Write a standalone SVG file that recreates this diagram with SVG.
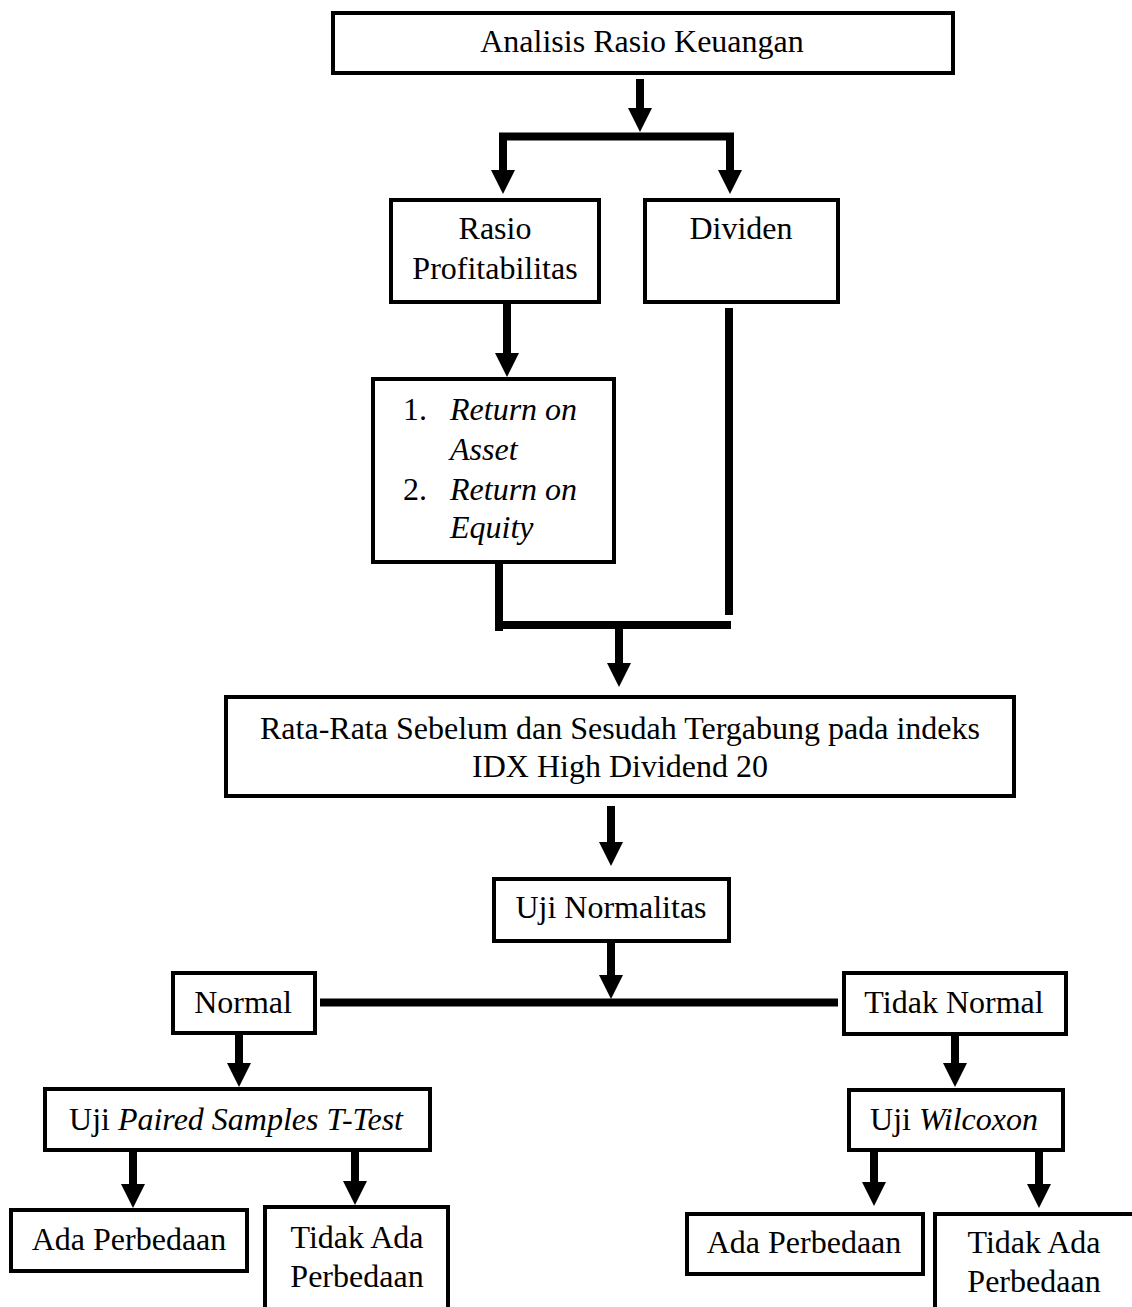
<svg xmlns="http://www.w3.org/2000/svg" width="1132" height="1307" viewBox="0 0 1132 1307">
<style>
.box{fill:#fff;stroke:#000;stroke-width:4}
.t{font-family:"Liberation Serif","Times New Roman",serif;font-size:32px;fill:#000}
.c{text-anchor:middle}
.i{font-style:italic}
.ln{stroke:#000;stroke-width:8;fill:none}
.ar{stroke:#000;stroke-width:8;fill:none;marker-end:url(#ah)}
</style>
<defs>
<marker id="ah" markerUnits="userSpaceOnUse" markerWidth="24" markerHeight="24" refX="0" refY="12" orient="auto" viewBox="0 0 24 24">
<path d="M0,0 L24,12 L0,24 Z" fill="#000"/>
</marker>
</defs>
<rect width="1132" height="1307" fill="#fff"/>
<g id="connectors">
<line class="ar" x1="640" y1="79" x2="640" y2="108"/>
<line class="ln" x1="499" y1="136.5" x2="734" y2="136.5" stroke-width="7"/>
<line class="ar" x1="503" y1="133" x2="503" y2="170"/>
<line class="ar" x1="730" y1="133" x2="730" y2="170"/>
<line class="ar" x1="507" y1="304" x2="507" y2="353"/>
<line class="ln" x1="499" y1="564" x2="499" y2="631"/>
<line class="ln" x1="495" y1="625" x2="731" y2="625" stroke-width="7"/>
<line class="ln" x1="729" y1="308" x2="729" y2="615"/>
<line class="ar" x1="619" y1="628" x2="619" y2="663"/>
<line class="ar" x1="611" y1="806" x2="611" y2="842"/>
<line class="ar" x1="611" y1="943" x2="611" y2="975"/>
<line class="ln" x1="320" y1="1002.5" x2="838" y2="1002.5" stroke-width="9"/>
<line class="ar" x1="239" y1="1035" x2="239" y2="1063"/>
<line class="ar" x1="955" y1="1036" x2="955" y2="1063"/>
<line class="ar" x1="133" y1="1152" x2="133" y2="1184"/>
<line class="ar" x1="355" y1="1152" x2="355" y2="1181"/>
<line class="ar" x1="874" y1="1152" x2="874" y2="1182"/>
<line class="ar" x1="1039" y1="1152" x2="1039" y2="1184"/>
</g>
<g id="analisis">
<rect class="box" x="333" y="13" width="620" height="60"/>
<text class="t c" x="642" y="52">Analisis Rasio Keuangan</text>
</g>
<g id="rasio">
<rect class="box" x="391" y="200" width="208" height="102"/>
<text class="t c" x="495" y="239">Rasio</text>
<text class="t c" x="495" y="279">Profitabilitas</text>
</g>
<g id="dividen">
<rect class="box" x="645" y="200" width="193" height="102"/>
<text class="t c" x="741" y="239">Dividen</text>
</g>
<g id="return">
<rect class="box" x="373" y="379" width="241" height="183"/>
<text class="t" x="403" y="420">1.</text>
<text class="t i" x="450" y="420">Return on</text>
<text class="t i" x="450" y="460">Asset</text>
<text class="t" x="403" y="500">2.</text>
<text class="t i" x="450" y="500">Return on</text>
<text class="t i" x="450" y="538">Equity</text>
</g>
<g id="ratarata">
<rect class="box" x="226" y="697" width="788" height="99"/>
<text class="t c" x="620" y="739">Rata-Rata Sebelum dan Sesudah Tergabung pada indeks</text>
<text class="t c" x="620" y="777">IDX High Dividend 20</text>
</g>
<g id="normalitas">
<rect class="box" x="494" y="879" width="235" height="62"/>
<text class="t c" x="611" y="918">Uji Normalitas</text>
</g>
<g id="normal">
<rect class="box" x="173" y="973" width="142" height="60"/>
<text class="t c" x="243" y="1013">Normal</text>
</g>
<g id="tidaknormal">
<rect class="box" x="844" y="973" width="222" height="61"/>
<text class="t c" x="954" y="1013">Tidak Normal</text>
</g>
<g id="paired">
<rect class="box" x="45" y="1089" width="385" height="61"/>
<text class="t c" x="236" y="1130">Uji <tspan class="i">Paired Samples T-Test</tspan></text>
</g>
<g id="wilcoxon">
<rect class="box" x="849" y="1090" width="214" height="60"/>
<text class="t c" x="954" y="1130">Uji <tspan class="i">Wilcoxon</tspan></text>
</g>
<g id="ada1">
<rect class="box" x="11" y="1210" width="236" height="61"/>
<text class="t c" x="129" y="1250">Ada Perbedaan</text>
</g>
<g id="tidakada1">
<rect class="box" x="265" y="1207" width="183" height="120"/>
<text class="t c" x="357" y="1248">Tidak Ada</text>
<text class="t c" x="357" y="1287">Perbedaan</text>
</g>
<g id="ada2">
<rect class="box" x="687" y="1214" width="236" height="60"/>
<text class="t c" x="804" y="1253">Ada Perbedaan</text>
</g>
<g id="tidakada2">
<rect class="box" x="935" y="1214" width="210" height="120"/>
<text class="t c" x="1034" y="1253">Tidak Ada</text>
<text class="t c" x="1034" y="1292">Perbedaan</text>
</g>
</svg>
